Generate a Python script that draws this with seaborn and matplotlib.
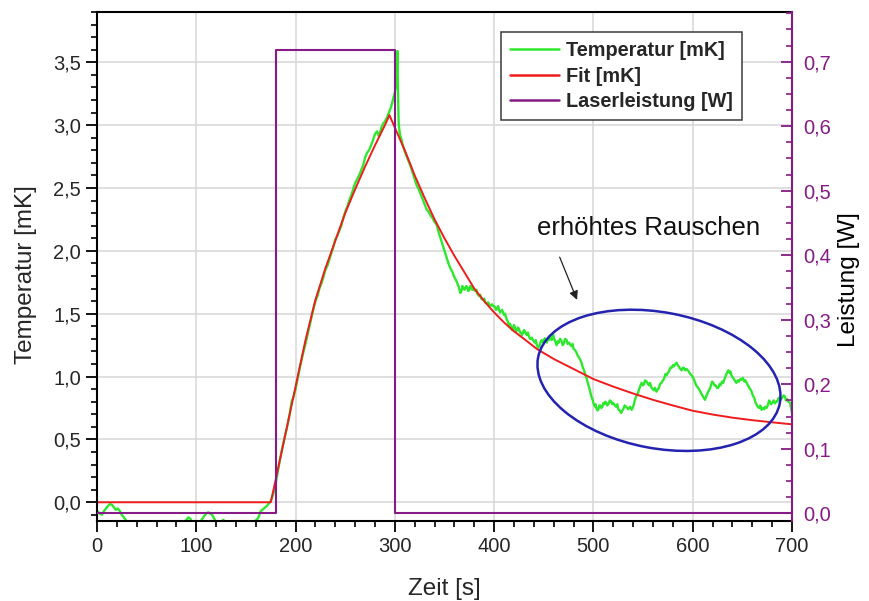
import numpy as np
import pandas as pd
import matplotlib
matplotlib.use("Agg")
import matplotlib.pyplot as plt
import matplotlib.ticker as mticker
import matplotlib.transforms as mtransforms
from matplotlib.patches import Ellipse
from matplotlib.lines import Line2D
import seaborn as sns

# ---------------- data ----------------
base_t = [0, 3, 5, 7, 9, 11, 13, 15, 17, 19, 21, 23, 25, 27, 29, 31, 35, 40, 50, 60, 70,
          80, 86, 90, 92, 94, 96, 100, 104, 107, 110, 112, 114, 116, 118, 120, 124, 127,
          129, 132, 140, 150, 156, 159, 162, 165, 168, 171, 173, 175]
base_mk = [-0.07, -0.09, -0.10, -0.07, -0.05, -0.03, -0.015, -0.02, -0.04, -0.06, -0.05,
           -0.07, -0.10, -0.12, -0.14, -0.17, -0.20, -0.22, -0.20, -0.24, -0.21, -0.19,
           -0.17, -0.14, -0.12, -0.13, -0.16, -0.19, -0.16, -0.12, -0.09, -0.08, -0.09,
           -0.10, -0.13, -0.16, -0.17, -0.14, -0.15, -0.19, -0.22, -0.20, -0.17, -0.15,
           -0.13, -0.07, -0.05, -0.03, -0.01, 0.01]

rise_t = [176, 178, 180, 182, 184, 186, 188, 190, 192, 194, 196, 198, 200, 202, 204, 206,
          208, 210, 212, 214, 216, 218, 220, 222, 224, 226, 228, 230, 232, 234, 236, 238,
          240, 242, 244, 246, 248, 250, 252, 254, 256, 258, 260, 262, 264, 266, 268, 270,
          272, 274, 276, 278, 280, 282, 284, 286, 288, 290, 292, 294, 296, 298, 300,
          301.8, 302.6, 303.2, 303.8, 305, 306.5, 308]
rise_mk = [0.03, 0.08, 0.15, 0.24, 0.33, 0.41, 0.48, 0.55, 0.62, 0.70, 0.80, 0.84, 0.90,
           0.98, 1.06, 1.13, 1.20, 1.26, 1.33, 1.40, 1.47, 1.54, 1.60, 1.64, 1.70, 1.74,
           1.79, 1.85, 1.88, 1.93, 1.98, 2.03, 2.09, 2.12, 2.16, 2.20, 2.26, 2.31, 2.35,
           2.40, 2.44, 2.49, 2.54, 2.57, 2.60, 2.64, 2.68, 2.74, 2.78, 2.80, 2.84, 2.88,
           2.93, 2.95, 2.91, 2.97, 3.01, 3.03, 3.06, 3.10, 3.14, 3.20, 3.26,
           3.36, 3.59, 3.25, 3.02, 2.93, 2.89, 2.84]

decay_t = [310, 312, 314, 316, 318, 320, 322, 324, 326, 328, 330, 332, 334, 336, 338, 340,
           342, 344, 346, 348, 350, 352, 354, 356, 358, 360, 362, 364, 366, 367, 368, 369,
           370, 371, 372, 373, 374, 375, 376, 377, 378, 379, 381, 382, 383, 385, 386, 387,
           389, 390, 391, 393, 394, 395, 397, 398, 399, 400, 401, 402, 403, 404, 405, 406,
           407, 408, 409, 410, 411, 412, 413, 414, 415, 416, 417, 418, 419, 420, 421, 422,
           423, 424, 425, 426, 427, 428, 429, 430, 431, 432, 433, 434, 435, 436, 437, 438,
           439, 440, 441, 442, 443, 444.5]
decay_mk = [2.79, 2.75, 2.71, 2.67, 2.62, 2.57, 2.52, 2.49, 2.45, 2.41, 2.37, 2.33, 2.31,
            2.28, 2.26, 2.23, 2.21, 2.15, 2.10, 2.05, 2.00, 1.95, 1.90, 1.86, 1.83, 1.79,
            1.76, 1.72, 1.665, 1.68, 1.72, 1.71, 1.69, 1.70, 1.72, 1.71, 1.68, 1.69, 1.72,
            1.71, 1.69, 1.70, 1.68, 1.69, 1.66, 1.64, 1.65, 1.62, 1.61, 1.62, 1.59, 1.58,
            1.59, 1.57, 1.565, 1.575, 1.56, 1.56, 1.55, 1.53, 1.54, 1.56, 1.53, 1.51, 1.52,
            1.53, 1.51, 1.49, 1.50, 1.47, 1.45, 1.43, 1.41, 1.42, 1.40, 1.37, 1.38, 1.41,
            1.39, 1.36, 1.37, 1.39, 1.38, 1.35, 1.35, 1.33, 1.345, 1.37, 1.36, 1.34, 1.33,
            1.35, 1.32, 1.30, 1.30, 1.31, 1.29, 1.28, 1.27, 1.29, 1.25, 1.23]

tail_t = [446, 447, 448, 449.5, 451, 452, 453, 454, 455, 456, 457, 458, 459.5, 460, 461,
          462, 463, 464, 465, 466.5, 468, 469, 470, 471.5, 473, 474, 475.5, 477, 478, 479,
          480, 481.5, 483, 484, 485.5, 487, 488, 489, 490.5, 492, 493, 494, 495, 496.5,
          497, 498, 499, 500, 501.5, 502, 503, 504, 505, 506, 507, 508, 509, 510, 511, 512,
          513, 514, 515, 516.5, 518, 519, 520, 521.5, 523, 524, 525, 526.5, 528, 529, 530,
          531.5, 533, 534, 535, 537, 538.5, 540, 541, 542, 543.5, 545, 546, 547, 548.5,
          550, 551, 552, 553.5, 555, 556, 557, 558.5, 560, 561, 562, 563.5, 565, 566, 567,
          568.5, 570, 571, 572.5, 573.7, 575, 576, 577.5, 578.7, 580, 581, 582.5, 583.8,
          585, 586, 587.5, 588.8, 590, 591, 592.5, 593.8, 595, 596, 597.5, 598.9, 600.5,
          602, 603.5, 605.5, 607, 609, 610.5, 612.3, 613, 614, 615, 615.6, 617, 618, 619.5,
          620.7, 622, 623, 624.5, 625.7, 627, 628, 629.5, 630.7, 632, 633, 634.5, 635.8,
          637, 638, 639, 640.5, 641.5, 643, 644, 645.5, 646.5, 648, 649.2, 650.5, 652, 653,
          654.3, 655.5, 657, 658, 659.3, 660.5, 662, 663, 664.4, 665.5, 667, 668, 669.4,
          670.5, 672, 673, 674.4, 675.5, 676, 677, 677.8, 679, 680, 681.5, 682.8, 684, 685,
          686.5, 687.9, 689, 690, 691.5, 692.9, 694, 695, 696.5, 698, 699, 700]
tail_mk = [1.25, 1.28, 1.29, 1.27, 1.305, 1.28, 1.27, 1.30, 1.29, 1.32, 1.31, 1.29, 1.33,
           1.31, 1.29, 1.27, 1.25, 1.28, 1.27, 1.30, 1.28, 1.25, 1.26, 1.30, 1.29, 1.26,
           1.27, 1.25, 1.24, 1.26, 1.22, 1.21, 1.19, 1.17, 1.15, 1.13, 1.11, 1.08, 1.05,
           1.01, 0.99, 0.96, 0.93, 0.89, 0.87, 0.84, 0.82, 0.79, 0.76, 0.78, 0.75, 0.73,
           0.74, 0.77, 0.77, 0.75, 0.76, 0.79, 0.78, 0.80, 0.79, 0.77, 0.78, 0.81, 0.80,
           0.78, 0.79, 0.77, 0.76, 0.78, 0.74, 0.73, 0.71, 0.73, 0.74, 0.77, 0.76, 0.75,
           0.74, 0.76, 0.735, 0.76, 0.79, 0.82, 0.85, 0.87, 0.90, 0.92, 0.95, 0.93, 0.94,
           0.97, 0.96, 0.94, 0.93, 0.95, 0.91, 0.90, 0.89, 0.91, 0.88, 0.90, 0.91, 0.94,
           0.95, 0.97, 0.98, 1.02, 1.01, 1.03, 1.04, 1.07, 1.07, 1.09, 1.08, 1.10, 1.11,
           1.09, 1.08, 1.06, 1.05, 1.07, 1.07, 1.05, 1.06, 1.05, 1.04, 1.02, 1.01, 0.99,
           0.96, 0.93, 0.91, 0.89, 0.86, 0.84, 0.815, 0.83, 0.85, 0.87, 0.88, 0.90, 0.92,
           0.96, 0.95, 0.93, 0.93, 0.91, 0.91, 0.94, 0.93, 0.96, 0.95, 0.98, 1.00, 1.03,
           1.05, 1.03, 1.04, 1.01, 0.99, 0.98, 0.96, 0.95, 0.97, 0.96, 0.98, 0.975, 0.99,
           0.96, 0.97, 0.95, 0.93, 0.91, 0.90, 0.88, 0.85, 0.83, 0.80, 0.775, 0.76, 0.75,
           0.77, 0.735, 0.75, 0.74, 0.76, 0.75, 0.77, 0.78, 0.81, 0.80, 0.78, 0.79, 0.81,
           0.787, 0.80, 0.80, 0.83, 0.815, 0.82, 0.83, 0.85, 0.84, 0.81, 0.82, 0.80, 0.79,
           0.75, 0.71]

fit_t = [0, 175, 180, 190, 200, 210, 220, 230, 240, 250, 260, 270, 280, 290, 294.5, 300,
         305, 310, 320, 330, 340, 350, 360, 370, 380, 390, 400, 410, 420, 430, 443, 460,
         480, 500, 520, 540, 560, 580, 600, 620, 640, 660, 680, 700]
fit_mk = [0.0, 0.0, 0.18, 0.55, 0.92, 1.29, 1.61, 1.86, 2.08, 2.30, 2.49, 2.67, 2.84, 3.00,
          3.08, 2.98, 2.89, 2.80, 2.60, 2.42, 2.25, 2.10, 1.96, 1.83, 1.70, 1.60, 1.51,
          1.43, 1.36, 1.30, 1.22, 1.14, 1.06, 0.98, 0.92, 0.865, 0.815, 0.77, 0.728, 0.698,
          0.673, 0.653, 0.636, 0.62]

laser_t = [0, 180, 300.6, 700]
laser_w = [0.0, 0.718, 0.0, 0.0]

x_ticks = [0, 100, 200, 300, 400, 500, 600, 700]
left_ticks = [0.0, 0.5, 1.0, 1.5, 2.0, 2.5, 3.0, 3.5]
right_ticks = [0.0, 0.1, 0.2, 0.3, 0.4, 0.5, 0.6, 0.7]

temp_df = pd.DataFrame({"t": base_t + rise_t + decay_t + tail_t,
                        "T": base_mk + rise_mk + decay_mk + tail_mk})
fit_df = pd.DataFrame({"t": fit_t, "T": fit_mk})
laser_df = pd.DataFrame({"t": laser_t, "P": laser_w})

# ---------------- style ----------------
sns.set_style("ticks")
plt.rcParams["font.family"] = ["Liberation Sans", "DejaVu Sans"]

GREEN = "#2ee82e"
RED = "#ee1c1c"
PURPLE = "#861a86"
BLUE = "#2323b0"
GRID = "#d6d6d6"

fig = plt.figure(figsize=(8.69, 6.01), dpi=100)
ax = fig.add_axes([97 / 869, 80 / 601, 695 / 869, 509 / 601])

sns.lineplot(data=temp_df, x="t", y="T", ax=ax, color=GREEN, lw=1.7,
             estimator=None, sort=False, legend=False)
sns.lineplot(data=fit_df, x="t", y="T", ax=ax, color=RED, lw=1.4,
             estimator=None, sort=False, legend=False)

ax.set_xlim(0, 700)
ax.set_ylim(-0.149, 3.90)
ax.set_xticks(x_ticks)
ax.xaxis.set_minor_locator(mticker.MultipleLocator(20))
ax.set_yticks(left_ticks)
ax.yaxis.set_minor_locator(mticker.MultipleLocator(0.1))
ax.yaxis.set_major_formatter(mticker.FuncFormatter(lambda v, p: f"{v:.1f}".replace(".", ",")))
ax.xaxis.set_major_formatter(mticker.FuncFormatter(lambda v, p: f"{v:.0f}"))
ax.grid(True, which="major", color=GRID, lw=1.1)
ax.set_axisbelow(True)
ax.tick_params(axis="both", which="major", direction="out", length=8, width=1.3,
               labelsize=14.5, color="black", pad=3.5)
ax.tick_params(axis="both", which="minor", direction="out", length=4.5, width=1.2,
               color="black")
ax.tick_params(axis="y", which="both", right=False)
ax.tick_params(axis="x", which="both", top=False)
for s in ["left", "bottom", "top"]:
    ax.spines[s].set_linewidth(1.5)
    ax.spines[s].set_color("black")
ax.spines["right"].set_visible(False)
ax.set_xlabel("Zeit [s]", fontsize=17.5, labelpad=16)
ax.set_ylabel("Temperatur [mK]", fontsize=17.5)
ax.yaxis.set_label_coords(-0.086, 0.485)

ax2 = ax.twinx()
ax2.set_position(ax.get_position())
sns.lineplot(data=laser_df, x="t", y="P", ax=ax2, color=PURPLE, lw=1.5,
             estimator=None, sort=False, legend=False, drawstyle="steps-post")
ax2.set_ylim(-0.0119, 0.777)
ax2.set_xlim(0, 700)
ax2.set_yticks(right_ticks)
ax2.yaxis.set_minor_locator(mticker.MultipleLocator(0.025))
ax2.yaxis.set_major_formatter(mticker.FuncFormatter(lambda v, p: f"{v:.1f}".replace(".", ",")))
ax2.tick_params(axis="y", which="major", direction="in", length=8, width=1.3,
                labelsize=14.5, colors=PURPLE, pad=8)
ax2.tick_params(axis="y", which="minor", direction="in", length=4.5, width=1.2,
                colors=PURPLE)
ax2.spines["right"].set_color(PURPLE)
ax2.spines["right"].set_linewidth(1.5)
for s in ["left", "bottom", "top"]:
    ax2.spines[s].set_visible(False)
ax2.set_ylabel("Leistung [W]", fontsize=17.5, color="black")
ax2.yaxis.set_label_coords(1.066, 0.475)

# ---------------- annotation ----------------
ax.text(556, 2.18, "erhöhtes Rauschen", fontsize=18.5, ha="center", va="center",
        color="#111111")
ax.annotate("", xy=(483.5, 1.61), xytext=(466, 1.95),
            arrowprops=dict(arrowstyle="-|>", color="#222222", lw=0.9,
                            mutation_scale=13, shrinkA=0, shrinkB=0))
ell_tr = fig.dpi_scale_trans + mtransforms.ScaledTranslation(566, 0.97, ax.transData)
ell = Ellipse((0, 0), width=2.46, height=1.36, angle=-10.7, fill=False,
              edgecolor=BLUE, lw=1.8, transform=ell_tr, zorder=5)
ax2.add_artist(ell)

# ---------------- legend ----------------
handles = [Line2D([], [], color=GREEN, lw=1.8),
           Line2D([], [], color=RED, lw=1.8),
           Line2D([], [], color=PURPLE, lw=1.8)]
labels = ["Temperatur [mK]", "Fit [mK]", "Laserleistung [W]"]
leg = ax2.legend(handles, labels, loc="upper left",
                 bbox_to_anchor=(501 / 869, 1 - 32 / 601), bbox_transform=fig.transFigure,
                 prop={"weight": "bold", "size": 14.3}, frameon=True, fancybox=False,
                 framealpha=1, edgecolor="#3a3a3a", borderaxespad=0, borderpad=0.45,
                 handlelength=2.45, handletextpad=0.38, labelspacing=0.34)
leg.get_frame().set_linewidth(1.1)

fig.savefig("out.png", dpi=100)
